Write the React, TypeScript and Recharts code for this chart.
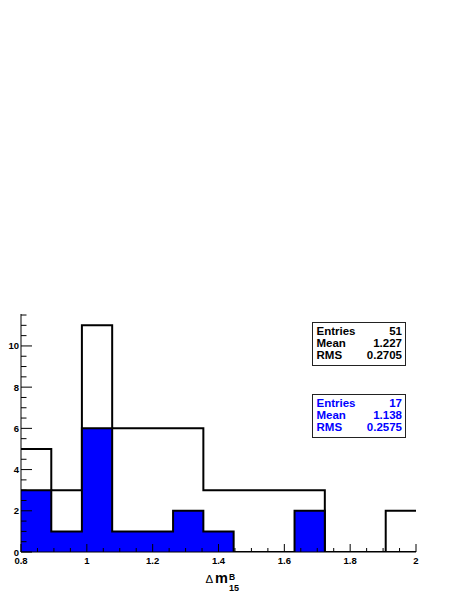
import React from 'react';
import { ComposedChart, Area, XAxis, YAxis } from 'recharts';

const binEdges = [0.8, 0.892, 0.985, 1.077, 1.169, 1.262, 1.354, 1.446, 1.538, 1.631, 1.723, 1.815, 1.908, 2.0];
const allCounts = [5, 3, 11, 6, 6, 6, 3, 3, 3, 3, 0, 0, 2];
const selCounts = [3, 1, 6, 1, 1, 2, 1, 0, 0, 2, 0, 0, 0];

const xMajorTicks = [0.8, 1.0, 1.2, 1.4, 1.6, 1.8, 2.0];
const xMajorLabels = ['0.8', '1', '1.2', '1.4', '1.6', '1.8', '2'];
const xMinorTicks = [0.85, 0.9, 0.95, 1.05, 1.1, 1.15, 1.25, 1.3, 1.35, 1.45, 1.5, 1.55, 1.65, 1.7, 1.75, 1.85, 1.9, 1.95];

const yMajorTicks = [0, 2, 4, 6, 8, 10];
const yMajorLabels = ['0', '2', '4', '6', '8', '10'];
const yMinorTicks = [0.5, 1, 1.5, 2.5, 3, 3.5, 4.5, 5, 5.5, 6.5, 7, 7.5, 8.5, 9, 9.5, 10.5, 11, 11.5];

const statsAll = [['Entries', '51'], ['Mean', '1.227'], ['RMS', '0.2705']];
const statsSel = [['Entries', '17'], ['Mean', '1.138'], ['RMS', '0.2575']];

const FONT = '"Liberation Sans", Arial, Helvetica, sans-serif';

const rows = binEdges.map((x, i) => ({
  x,
  all: allCounts[Math.min(i, allCounts.length - 1)],
  sel: selCounts[Math.min(i, selCounts.length - 1)],
}));

const xTicks = [...xMajorTicks, ...xMinorTicks].sort((a, b) => a - b);
const yTicks = [...yMajorTicks, ...yMinorTicks].sort((a, b) => a - b);

const XTick = (props: any) => {
  const { x, y, payload } = props;
  const idx = xMajorTicks.findIndex((t) => Math.abs(t - payload.value) < 1e-6);
  const major = idx >= 0;
  return (
    <g>
      <line x1={x} x2={x} y1={y} y2={y - (major ? 8 : 4)} stroke="#000" strokeWidth={1} />
      {major && (
        <text x={x} y={y + 12} textAnchor="middle" fontSize={9.5} fontWeight="bold" fontFamily={FONT} fill="#000">
          {xMajorLabels[idx]}
        </text>
      )}
    </g>
  );
};

const YTick = (props: any) => {
  const { x, y, payload } = props;
  const idx = yMajorTicks.findIndex((t) => Math.abs(t - payload.value) < 1e-6);
  const major = idx >= 0;
  return (
    <g>
      <line x1={x} x2={x + (major ? 11 : 5.5)} y1={y} y2={y} stroke="#000" strokeWidth={1} />
      {major && (
        <text x={x - 2} y={y + 3.5} textAnchor="end" fontSize={9.5} fontWeight="bold" fontFamily={FONT} fill="#000">
          {yMajorLabels[idx]}
        </text>
      )}
    </g>
  );
};

const StatsBox = ({ top, items, color }: { top: number; items: string[][]; color: string }) => (
  <g>
    <rect x={312.5} y={top + 0.5} width={93} height={43} fill="#fff" stroke="#222" strokeWidth={1} />
    {items.map((r, i) => (
      <g key={r[0]}>
        <text x={316.5} y={top + 13 + i * 12.2} fontSize={11.5} fontWeight="bold" fontFamily={FONT} fill={color}>
          {r[0]}
        </text>
        <text x={402} y={top + 13 + i * 12.2} textAnchor="end" fontSize={11.5} fontWeight="bold" fontFamily={FONT} fill={color}>
          {r[1]}
        </text>
      </g>
    ))}
  </g>
);

export default function App() {
  return (
    <div style={{ position: 'absolute', left: 0, top: 0, width: 463, height: 599, background: '#fff' }}>
      <ComposedChart width={463} height={599} data={rows} margin={{ top: 314, right: 47, bottom: 0, left: 0 }}>
        <XAxis
          dataKey="x"
          type="number"
          domain={[0.8, 2.0]}
          ticks={xTicks}
          interval={0}
          tickSize={0}
          tickMargin={0}
          tick={<XTick />}
          height={47}
          axisLine={{ stroke: '#000', strokeWidth: 1 }}
          allowDataOverflow
        />
        <XAxis
          xAxisId="top"
          orientation="top"
          type="number"
          domain={[0.8, 2.0]}
          height={0}
          tick={false}
          tickLine={false}
          axisLine={{ stroke: '#000', strokeWidth: 1 }}
        />
        <YAxis
          type="number"
          domain={[0, 11.55]}
          ticks={yTicks}
          interval={0}
          tickSize={0}
          tickMargin={0}
          tick={<YTick />}
          width={21}
          axisLine={{ stroke: '#000', strokeWidth: 1 }}
          allowDataOverflow
        />
        <YAxis
          yAxisId="right"
          orientation="right"
          type="number"
          domain={[0, 11.55]}
          width={0}
          tick={false}
          tickLine={false}
          axisLine={{ stroke: '#333', strokeWidth: 1 }}
        />
        <Area
          type="stepAfter"
          dataKey="all"
          stroke="#000"
          strokeWidth={2}
          fill="none"
          fillOpacity={0}
          dot={false}
          activeDot={false}
          isAnimationActive={false}
        />
        <Area
          type="stepAfter"
          dataKey="sel"
          stroke="#000"
          strokeWidth={2}
          fill="#0000ff"
          fillOpacity={1}
          dot={false}
          activeDot={false}
          isAnimationActive={false}
        />
      </ComposedChart>
      <svg width={463} height={599} style={{ position: 'absolute', left: 0, top: 0, pointerEvents: 'none' }}>
        <StatsBox top={322} items={statsAll} color="#000" />
        <StatsBox top={394} items={statsSel} color="#0000ff" />
        <text x={205.5} y={582.5} fontSize={11.5} fontFamily={FONT} fill="#000">Δ</text>
        <text x={215} y={582.5} fontSize={14.5} fontWeight="bold" fontFamily={FONT} fill="#000">m</text>
        <text x={229} y={580} fontSize={8.5} fontWeight="bold" fontFamily={FONT} fill="#000">B</text>
        <text x={229} y={590.5} fontSize={9} fontWeight="bold" fontFamily={FONT} fill="#000">15</text>
      </svg>
    </div>
  );
}
